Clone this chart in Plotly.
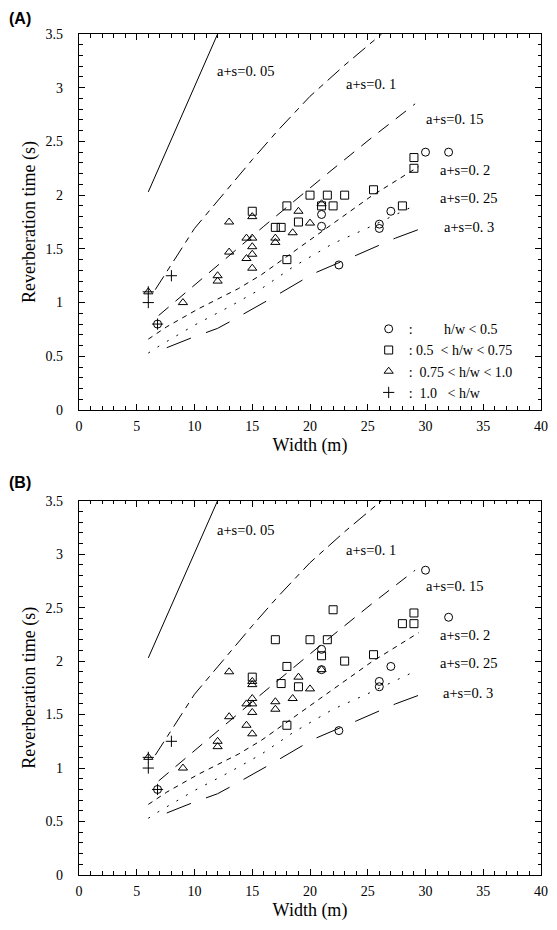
import plotly.graph_objects as go

# ---------------- data ----------------
# theoretical curves (a+s values), width (m) and reverberation time (s)
curve_names = ["a+s=0. 05", "a+s=0. 1", "a+s=0. 15", "a+s=0. 2", "a+s=0. 25", "a+s=0. 3"]
c005_x = [6, 12]
c005_y = [2.03, 3.5]
c010_x = [6.6, 8, 10, 15, 17.2, 20, 23, 26.2]
c010_y = [1.12, 1.36, 1.69, 2.33, 2.6, 2.92, 3.21, 3.5]
c015_x = [6.9, 10.5, 16, 21.5, 25.4, 29.1]
c015_y = [0.88, 1.21, 1.71, 2.2, 2.54, 2.85]
c020_x = [6, 7.6, 10.3, 13.8, 15.8, 21, 25.3, 29.4]
c020_y = [0.66, 0.775, 0.94, 1.13, 1.26, 1.66, 1.99, 2.265]
c025_x = [6, 7, 10, 13, 15.8, 18.5, 22, 24.8, 29.2]
c025_y = [0.53, 0.6, 0.79, 0.96, 1.13, 1.33, 1.55, 1.685, 1.91]
c030_x = [7.6, 9.7, 12, 13.2, 16.9, 20.3, 24, 27.4, 29.9]
c030_y = [0.58, 0.67, 0.76, 0.83, 1.055, 1.27, 1.44, 1.6, 1.7]

# measured halls, panel A
a_circ_x = [6.8, 21, 21, 22.5, 26, 26, 27, 30, 32]
a_circ_y = [0.8, 1.82, 1.71, 1.35, 1.73, 1.69, 1.85, 2.4, 2.4]
a_sq_x = [15, 17, 17.5, 18, 18, 19, 20, 21, 21.5, 22, 23, 25.5, 28, 29, 29]
a_sq_y = [1.85, 1.70, 1.70, 1.90, 1.40, 1.75, 2.0, 1.90, 2.0, 1.90, 2.0, 2.05, 1.90, 2.35, 2.25]
a_tri_x = [6, 9, 12, 12, 13, 13, 14.5, 15, 15, 15, 15, 14.5, 15, 17, 17, 18.5, 19, 20, 21]
a_tri_y = [1.1, 1.0, 1.25, 1.2, 1.75, 1.47, 1.6, 1.6, 1.8, 1.52, 1.45, 1.41, 1.32, 1.6, 1.56, 1.65, 1.85, 1.74, 1.92]
a_plus_x = [6, 6, 6.8, 8]
a_plus_y = [1.0, 1.1, 0.8, 1.25]

# measured halls, panel B
b_circ_x = [6.8, 21, 21, 22.5, 26, 26, 27, 30, 32]
b_circ_y = [0.8, 2.11, 1.92, 1.35, 1.81, 1.76, 1.95, 2.85, 2.41]
b_sq_x = [15, 17, 17.5, 18, 18, 19, 20, 21, 21.5, 22, 23, 25.5, 28, 29, 29]
b_sq_y = [1.85, 2.2, 1.79, 1.95, 1.40, 1.76, 2.2, 2.05, 2.2, 2.48, 2.0, 2.06, 2.35, 2.35, 2.45]
b_tri_x = [6, 9, 12, 12, 13, 13, 14.5, 15, 15, 15, 15, 15, 14.5, 15, 17, 17, 18.5, 19, 20, 21]
b_tri_y = [1.1, 1.0, 1.25, 1.2, 1.9, 1.48, 1.6, 1.65, 1.6, 1.81, 1.78, 1.52, 1.4, 1.32, 1.62, 1.55, 1.65, 1.85, 1.74, 1.92]
b_plus_x = [6, 6, 6.8, 8]
b_plus_y = [1.0, 1.1, 0.8, 1.25]

legend_names = [
    ":\u00a0\u00a0\u00a0\u00a0\u00a0\u00a0\u00a0\u00a0 h/w < 0.5",
    ": 0.5\u00a0\u00a0< h/w < 0.75",
    ":\u00a0\u00a00.75 < h/w < 1.0",
    ":\u00a0\u00a01.0\u00a0\u00a0\u00a0< h/w",
]

x_ticks = [0, 5, 10, 15, 20, 25, 30, 35, 40]
y_ticks = [0, 0.5, 1, 1.5, 2, 2.5, 3, 3.5]

# ---------------- styles ----------------
SERIF = "Liberation Serif"
curves = [(c005_x, c005_y), (c010_x, c010_y), (c015_x, c015_y),
          (c020_x, c020_y), (c025_x, c025_y), (c030_x, c030_y)]
dashes = ["solid", "16px,6px,6px,6px", "13px,9px", "5px,5px", "2px,9px", "26px,16px"]
label_pos_A = [(11.8, 3.16), (22.9, 3.03), (29.9, 2.71), (31.1, 2.23), (31.1, 1.97), (31.4, 1.70)]
label_pos_B = [(11.8, 3.23), (22.9, 3.04), (29.9, 2.70), (31.1, 2.245), (31.1, 1.985), (31.3, 1.70)]
symbols = ["circle-open", "square-open", "triangle-up-open", "cross-thin-open"]
DOM_A = [0.5529, 1.0]
DOM_B = [0.0, 0.4451]

fig = go.Figure()

panels = [
    ("x", "y", [(a_circ_x, a_circ_y), (a_sq_x, a_sq_y), (a_tri_x, a_tri_y), (a_plus_x, a_plus_y)], True, label_pos_A),
    ("x2", "y2", [(b_circ_x, b_circ_y), (b_sq_x, b_sq_y), (b_tri_x, b_tri_y), (b_plus_x, b_plus_y)], False, label_pos_B),
]

for xa, ya, groups, show, lpos in panels:
    for (cx, cy), d in zip(curves, dashes):
        fig.add_trace(go.Scatter(x=cx, y=cy, mode="lines", xaxis=xa, yaxis=ya,
                                 line=dict(color="black", width=1, dash=d),
                                 showlegend=False, hoverinfo="skip"))
    for i, ((gx, gy), sym) in enumerate(zip(groups, symbols)):
        fig.add_trace(go.Scatter(x=gx, y=gy, mode="markers", xaxis=xa, yaxis=ya,
                                 name=legend_names[i], legendgroup=str(i), showlegend=show,
                                 marker=dict(symbol=sym, size=8, color="black",
                                             line=dict(color="black", width=1))))
    for name, (lx, ly) in zip(curve_names, lpos):
        fig.add_annotation(x=lx, y=ly, xref=xa, yref=ya, text=name, showarrow=False,
                           xanchor="left", yanchor="middle",
                           font=dict(family=SERIF, size=14.5, color="black"))

# empty traces so that the top/right tick-carrying axes are drawn
for xa, ya in [("x3", "y3"), ("x4", "y4")]:
    fig.add_trace(go.Scatter(x=[None], y=[None], xaxis=xa, yaxis=ya, mode="markers",
                             showlegend=False, hoverinfo="skip"))

tick_common = dict(ticks="inside", ticklen=6, tickwidth=1, tickcolor="black",
                   showgrid=False, zeroline=False,
                   tickfont=dict(family=SERIF, size=14, color="black"))
xminor = dict(ticks="inside", ticklen=3.5, tickwidth=1, tickcolor="black", dtick=1, tick0=0, showgrid=False)
yminor = dict(ticks="inside", ticklen=3.5, tickwidth=1, tickcolor="black", dtick=0.1, tick0=0, showgrid=False)

xcfg = dict(tick_common, showline=True, linecolor="black", linewidth=1.2, mirror=True,
            range=[0, 40], tickmode="array", tickvals=x_ticks,
            ticktext=[str(v) for v in x_ticks], ticklabelstandoff=3, minor=xminor,
            title=dict(text="Width (m)", font=dict(family=SERIF, size=18, color="black"), standoff=5))
ycfg = dict(tick_common, showline=True, linecolor="black", linewidth=1.2, mirror=True,
            range=[0, 3.5], tickmode="array", tickvals=y_ticks,
            ticktext=[("%g" % v) for v in y_ticks], ticklabelstandoff=12, minor=yminor,
            title=dict(text="Reverberation time (s)", font=dict(family=SERIF, size=18, color="black"), standoff=5))

# extra axes that carry the ticks on the top and right edges
xtop = dict(tick_common, range=[0, 40], tickmode="array", tickvals=x_ticks, showticklabels=False,
            minor=xminor, side="top", showline=False, domain=[0, 1], fixedrange=True)
yright = dict(tick_common, range=[0, 3.5], tickmode="array", tickvals=y_ticks, showticklabels=False,
              minor=yminor, side="right", showline=False, fixedrange=True)

fig.update_layout(
    width=557, height=930,
    margin=dict(l=79, r=9, t=34, b=55),
    paper_bgcolor="white", plot_bgcolor="rgba(0,0,0,0)",
    xaxis=dict(xcfg, domain=[0, 1], anchor="y"),
    yaxis=dict(ycfg, domain=DOM_A, anchor="x"),
    xaxis2=dict(xcfg, domain=[0, 1], anchor="y2"),
    yaxis2=dict(ycfg, domain=DOM_B, anchor="x2"),
    xaxis3=dict(xtop, anchor="y3"),
    yaxis3=dict(yright, anchor="x3", domain=DOM_A),
    xaxis4=dict(xtop, anchor="y4"),
    yaxis4=dict(yright, anchor="x4", domain=DOM_B),
    legend=dict(x=0.627, y=0.668, xanchor="left", yanchor="top",
                bgcolor="rgba(0,0,0,0)", borderwidth=0,
                font=dict(family=SERIF, size=14, color="black"),
                itemwidth=30, tracegroupgap=0),
    annotations=list(fig.layout.annotations) + [
        dict(text="<b>(A)</b>", xref="paper", yref="paper", x=-0.155, y=1.019,
             xanchor="left", yanchor="middle", showarrow=False,
             font=dict(family="Liberation Sans", size=16, color="black")),
        dict(text="<b>(B)</b>", xref="paper", yref="paper", x=-0.155, y=0.4673,
             xanchor="left", yanchor="middle", showarrow=False,
             font=dict(family="Liberation Sans", size=16, color="black")),
    ],
)

fig.write_html("out.html")
